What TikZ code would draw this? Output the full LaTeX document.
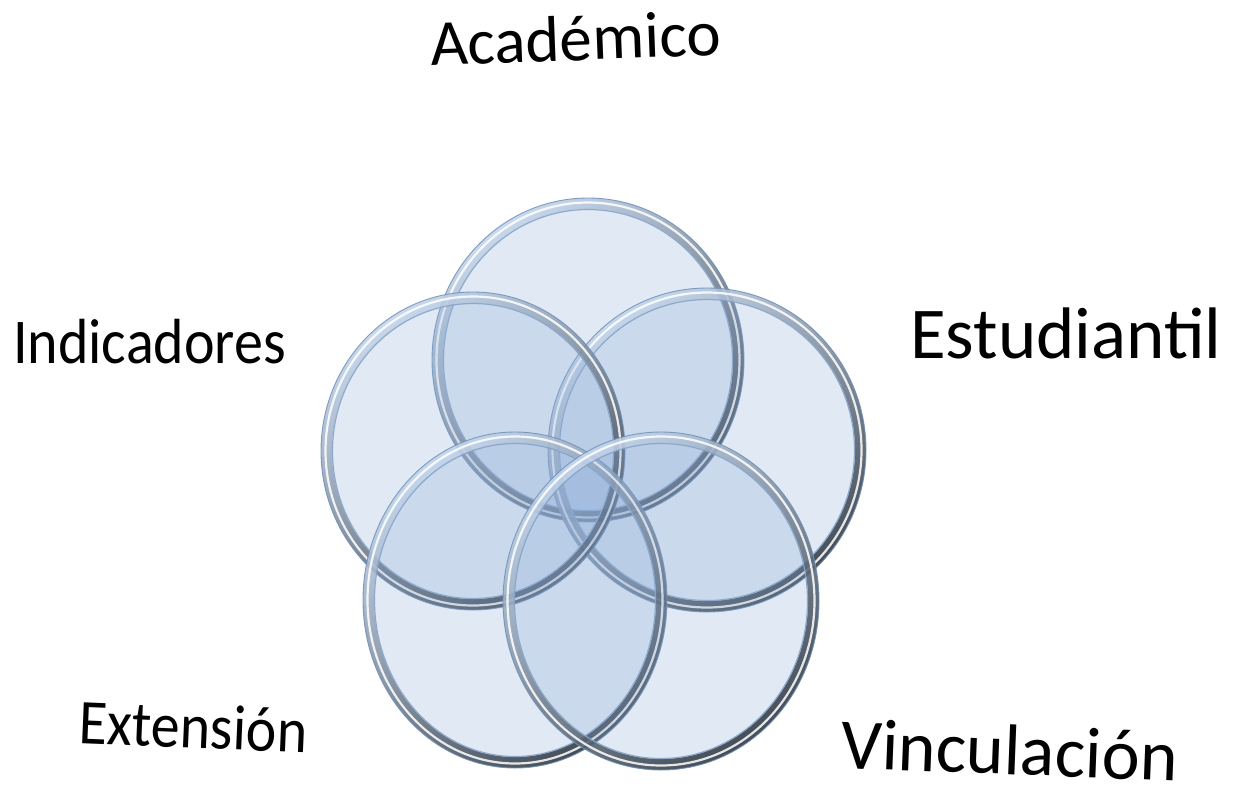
\documentclass[tikz,border=0pt]{standalone}
\usepackage{fontspec}
\setmainfont{Carlito}
\definecolor{bfill}{HTML}{8FAED8}
\definecolor{rimtop}{HTML}{C4D6EC}
\definecolor{rimmid}{HTML}{AFC4DE}
\definecolor{rimbot}{HTML}{2A333D}
\definecolor{edgeblue}{HTML}{6F90B8}
\definecolor{innerblue}{HTML}{86A3C8}
\tikzset{
  bubblefill/.style={fill=bfill, fill opacity=0.27},
  rimshade/.style={top color=rimtop, middle color=rimmid, bottom color=rimbot, shading angle=35, opacity=0.85},
  highlight/.style={draw=white, line width=2.2pt, opacity=0.85},
  innerline/.style={draw=innerblue, line width=1.2pt, opacity=0.9},
  outerline/.style={draw=edgeblue, line width=0.9pt, opacity=0.85},
  lbl/.style={inner sep=0pt, text=black}
}
\newcommand\bubble[5]{%
  \coordinate (#1) at (#2,#3);
  \fill[bubblefill] (#1) ellipse [x radius=#4, y radius=#5];
  \shade[even odd rule, rimshade] (#1) ellipse [x radius=#4, y radius=#5] (#1) ellipse [x radius=#4-11, y radius=#5-11];
  \draw[highlight] (#1) ellipse [x radius=#4-4.5, y radius=#5-4.5];
  \draw[innerline] (#1) ellipse [x radius=#4-11.5, y radius=#5-11.5];
  \draw[outerline] (#1) ellipse [x radius=#4, y radius=#5];
}
\begin{document}
\begin{tikzpicture}[x=1pt, y=-1pt]
\useasboundingbox (0,0) rectangle (1233,801);
\fill[white] (0,0) rectangle (1233,801);
\bubble{acad}{588}{360}{156}{162}
\bubble{estu}{707}{450}{159}{162}
\bubble{indi}{473}{451}{152}{159}
\bubble{exte}{515}{600}{152}{168}
\bubble{vinc}{661}{601}{158}{169}
\node[lbl, anchor=base west, rotate=2.2] (tacad) at (431,66) {\fontsize{65}{70}\selectfont Académico};
\node[lbl, anchor=base west] (testu) at (910,358) {\fontsize{73}{76}\selectfont Estudiantil};
\node[lbl, anchor=base west, yscale=1.1] (tindi) at (13,363) {\fontsize{58}{62}\selectfont Indicadores};
\node[lbl, anchor=base west, rotate=-2.4, yscale=1.1] (texte) at (78,743) {\fontsize{58}{62}\selectfont Extensión};
\node[lbl, anchor=base west, rotate=-2.2] (tvinc) at (840,768) {\fontsize{72}{76}\selectfont Vinculación};
\end{tikzpicture}
\end{document}
